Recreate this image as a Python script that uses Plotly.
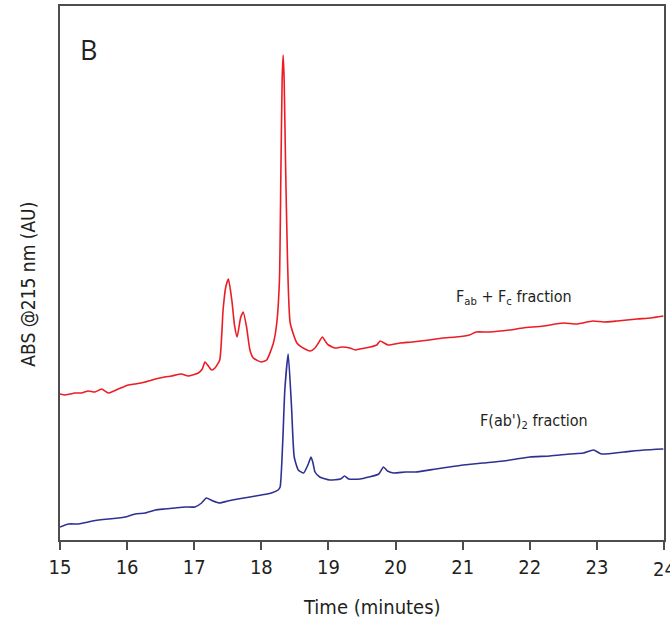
import plotly.graph_objects as go

# Fab + Fc fraction (red): time (min), absorbance (arbitrary units)
fab_time = [15.00, 15.07, 15.15, 15.22, 15.32, 15.42, 15.52, 15.62, 15.72, 15.80, 15.87,
            16.02, 16.12, 16.27, 16.42, 16.56, 16.66, 16.81, 16.91, 17.06, 17.12, 17.16,
            17.21, 17.26, 17.31, 17.38, 17.43, 17.47, 17.51, 17.56, 17.60, 17.64, 17.69,
            17.73, 17.78, 17.83, 17.88, 18.00, 18.08, 18.18, 18.23, 18.27, 18.29, 18.31,
            18.325, 18.34, 18.36, 18.39, 18.43, 18.53, 18.65, 18.73, 18.80, 18.85, 18.91,
            18.96, 19.00, 19.10, 19.20, 19.32, 19.40, 19.47, 19.62, 19.72, 19.77, 19.83,
            19.89, 20.07, 20.25, 20.50, 20.70, 20.90, 21.10, 21.20, 21.40, 21.70, 21.90,
            22.20, 22.50, 22.70, 22.94, 23.10, 23.30, 23.60, 23.80, 23.99]
fab_abs = [146, 145, 146, 147, 147, 149, 148, 151, 147, 149, 151,
           155, 156, 158, 161, 163, 164, 166, 164, 167, 171, 178,
           174, 170, 172, 180, 230, 253, 261, 240, 215, 203, 222,
           228, 213, 190, 182, 178, 180, 197, 217, 260, 360, 460,
           485, 460, 380, 280, 217, 197, 191, 189, 192, 197, 203,
           198, 195, 192, 193, 192, 190, 191, 193, 195, 199, 197,
           195, 197, 198, 200, 202, 203, 205, 208, 208, 210, 212,
           214, 217, 216, 219, 218, 219, 221, 222, 224]

# F(ab')2 fraction (blue)
f2_time = [15.00, 15.13, 15.28, 15.42, 15.57, 15.72, 15.87, 15.97, 16.12, 16.27, 16.42,
           16.56, 16.71, 16.86, 17.01, 17.11, 17.18, 17.28, 17.38, 17.50, 17.65, 17.83,
           18.00, 18.15, 18.25, 18.28, 18.32, 18.35, 18.40, 18.45, 18.49, 18.55, 18.63,
           18.70, 18.74, 18.77, 18.80, 18.87, 19.02, 19.18, 19.24, 19.30, 19.47, 19.60,
           19.75, 19.82, 19.88, 19.97, 20.15, 20.30, 20.60, 20.80, 21.01, 21.30, 21.60,
           21.80, 22.00, 22.30, 22.60, 22.80, 22.95, 23.07, 23.40, 23.70, 23.99]
f2_abs = [13, 16, 16, 18, 20, 21, 22, 23, 26, 27, 30,
          31, 32, 33, 33, 37, 42, 39, 37, 39, 41, 43,
          45, 47, 50, 53, 100, 150, 186, 133, 83, 70, 67,
          76, 83, 77, 68, 63, 60, 61, 64, 61, 61, 63,
          66, 73, 69, 67, 68, 68, 71, 73, 75, 77, 79,
          81, 83, 84, 86, 87, 90, 86, 88, 90, 91]

x_ticks = [15, 16, 17, 18, 19, 20, 21, 22, 23, 24]
x_tick_labels = ["15", "16", "17", "18", "19", "20", "21", "22", "23", "24"]

NARROW = "Liberation Sans Narrow, DejaVu Sans Condensed, Arial Narrow, sans-serif"
TICKFONT = dict(family=NARROW, size=20, color="#231f20")

fig = go.Figure()
fig.add_trace(go.Scatter(x=fab_time, y=fab_abs, mode="lines",
                         line=dict(color="#ed1c24", width=1.6, shape="spline", smoothing=0.5),
                         showlegend=False))
fig.add_trace(go.Scatter(x=f2_time, y=f2_abs, mode="lines",
                         line=dict(color="#2e3192", width=1.6, shape="spline", smoothing=0.5),
                         showlegend=False))

# the last label sits on the plot's right edge; plotly drops it, so draw it as text
edge_label = dict(text=x_tick_labels[-1], x=x_ticks[-1], y=-0.054, xref="x", yref="paper",
                  showarrow=False, xanchor="center", yanchor="middle", font=TICKFONT)

fig.update_layout(
    width=670, height=620,
    margin=dict(l=60, r=6, t=6, b=80),
    paper_bgcolor="white", plot_bgcolor="white",
    xaxis=dict(range=[15, 24], tickvals=x_ticks,
               ticktext=x_tick_labels[:-1] + [""],
               ticks="outside", ticklen=8, tickwidth=1.5, tickcolor="#4d4d4d",
               showline=True, linecolor="#4d4d4d", linewidth=1.5, mirror=True,
               showgrid=False, zeroline=False, automargin=False,
               tickfont=TICKFONT),
    yaxis=dict(range=[0, 534], showticklabels=False, ticks="",
               showline=True, linecolor="#4d4d4d", linewidth=1.5, mirror=True,
               showgrid=False, zeroline=False, automargin=False),
    annotations=[
        edge_label,
        dict(text="B", x=0.048, y=0.919, xref="paper", yref="paper", showarrow=False,
             xanchor="center", yanchor="middle",
             font=dict(family="Open Sans, sans-serif", size=27, color="#231f20")),
        dict(text="F<sub>ab</sub> + F<sub>c</sub> fraction", x=21.76, y=243,
             xref="x", yref="y", showarrow=False, xanchor="center", yanchor="middle",
             font=dict(family=NARROW, size=16, color="#231f20")),
        dict(text="F(ab')<sub>2</sub> fraction", x=22.06, y=119,
             xref="x", yref="y", showarrow=False, xanchor="center", yanchor="middle",
             font=dict(family=NARROW, size=16, color="#231f20")),
        dict(text="Time (minutes)", x=0.517, y=-0.125, xref="paper", yref="paper",
             showarrow=False, xanchor="center", yanchor="middle",
             font=dict(family=NARROW, size=20, color="#231f20")),
        dict(text="ABS @215 nm (AU)", x=-0.053, y=0.48, xref="paper", yref="paper",
             showarrow=False, xanchor="center", yanchor="middle", textangle=-90,
             font=dict(family=NARROW, size=19, color="#231f20")),
    ],
)

fig.write_html("out.html", config={"displayModeBar": False},
               post_script="document.body.style.margin='0';document.body.style.overflow='hidden';")
